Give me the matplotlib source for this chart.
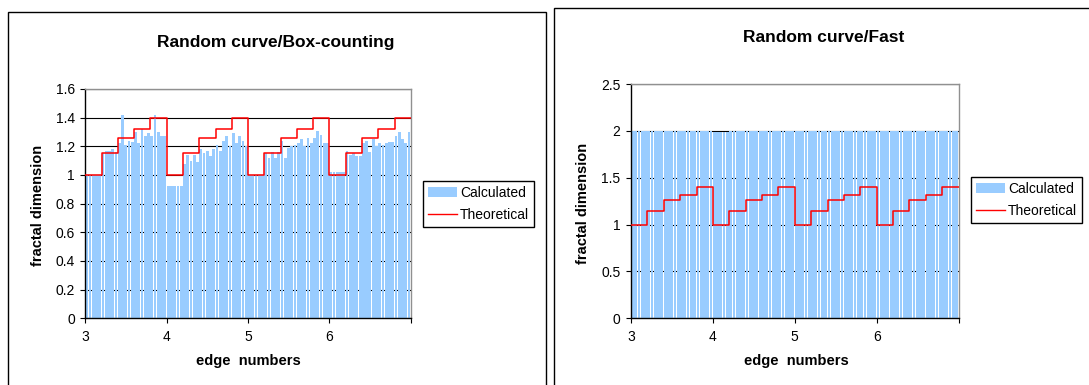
import matplotlib
matplotlib.use("Agg")
import matplotlib.pyplot as plt
from matplotlib.patches import Rectangle, Patch
from matplotlib.lines import Line2D

plt.rcParams["font.family"] = ["Liberation Sans", "DejaVu Sans"]

W, H = 1089, 385

# edge numbers, one bar every 0.04
edge = [round(3 + 0.04 * i, 2) for i in range(100)]

box_calc = [
    1.00, 1.00, 1.00, 1.00, 1.00, 1.15, 1.17, 1.17, 1.18, 1.16,
    1.22, 1.42, 1.21, 1.24, 1.23, 1.30, 1.22, 1.32, 1.27, 1.29,
    1.27, 1.42, 1.30, 1.27, 1.27,
    0.92, 0.92, 0.92, 0.92, 0.92, 1.08, 1.14, 1.10, 1.14, 1.09,
    1.18, 1.15, 1.17, 1.13, 1.18, 1.21, 1.17, 1.24, 1.27, 1.20,
    1.29, 1.22, 1.27, 1.24, 1.20,
    1.00, 1.00, 1.00, 1.00, 1.00, 1.15, 1.12, 1.16, 1.12, 1.16,
    1.24, 1.12, 1.19, 1.20, 1.21, 1.22, 1.25, 1.20, 1.26, 1.22,
    1.26, 1.31, 1.28, 1.22, 1.22,
    1.02, 1.02, 1.02, 1.02, 1.02, 1.17, 1.14, 1.15, 1.13, 1.13,
    1.22, 1.24, 1.16, 1.25, 1.20, 1.22, 1.21, 1.22, 1.23, 1.23,
    1.27, 1.30, 1.25, 1.22, 1.30,
]

fast_calc = [
    2.00, 2.00, 2.00, 2.00, 2.00, 2.00, 2.00, 2.00, 2.00, 2.00,
    2.00, 2.00, 2.00, 2.00, 2.00, 2.00, 2.00, 2.00, 2.00, 2.00,
    2.00, 2.00, 2.00, 2.00, 2.00,
    1.99, 1.99, 1.99, 1.99, 1.99, 2.00, 2.00, 2.00, 2.00, 2.00,
    2.00, 2.00, 2.00, 2.00, 2.00, 2.00, 2.00, 2.00, 2.00, 2.00,
    2.00, 2.00, 2.00, 2.00, 2.00,
    2.00, 2.00, 2.00, 2.00, 2.00, 2.00, 2.00, 2.00, 2.00, 2.00,
    2.00, 2.00, 2.00, 2.00, 2.00, 2.00, 2.00, 2.00, 2.00, 2.00,
    2.00, 2.00, 2.00, 2.00, 2.00,
    2.00, 2.00, 2.00, 2.00, 2.00, 2.00, 2.00, 2.00, 2.00, 2.00,
    2.00, 2.00, 2.00, 2.00, 2.00, 2.00, 2.00, 2.00, 2.00, 2.00,
    2.00, 2.00, 2.00, 2.00, 2.00,
]

theo_x = [3.0, 3.2, 3.4, 3.6, 3.8, 4.0, 4.2, 4.4, 4.6, 4.8,
          5.0, 5.2, 5.4, 5.6, 5.8, 6.0, 6.2, 6.4, 6.6, 6.8, 7.0]
theo_y = [1.0, 1.15, 1.26, 1.32, 1.4, 1.0, 1.15, 1.26, 1.32, 1.4,
          1.0, 1.15, 1.26, 1.32, 1.4, 1.0, 1.15, 1.26, 1.32, 1.4, 1.4]

xticks = [3, 4, 5, 6, 7]
xticklabels = ["3", "4", "5", "6", ""]

BLUE = "#99CCFF"
RED = "#FF0000"


def fx(px):
    return px / W


def fy(py):
    return 1 - py / H


def draw_panel(fig, rect, calc, ymax, ystep, yfmt, title, title_xy,
               ylab_xy, xlab_xy, legend_xy):
    ax = fig.add_axes(rect)
    ax.bar(edge, calc, width=0.034, align="edge", color=BLUE,
           linewidth=0, zorder=2)
    ax.plot(theo_x, theo_y, color=RED, lw=1.1, drawstyle="steps-post",
            zorder=3)
    ax.set_xlim(3, 7)
    ax.set_ylim(0, ymax)
    ax.set_xticks(xticks)
    ax.set_xticklabels(xticklabels)
    yt = [round(i * ystep, 2) for i in range(int(round(ymax / ystep)) + 1)]
    ax.set_yticks(yt)
    ax.set_yticklabels([yfmt(v) for v in yt])
    ax.set_axisbelow(True)
    ax.yaxis.grid(True, color="black", lw=0.8, zorder=1)
    ax.tick_params(axis="both", direction="out", length=3.6, width=0.8,
                   labelsize=10, colors="black")
    ax.tick_params(axis="x", pad=5)
    ax.tick_params(axis="y", pad=4)
    for s in ("left", "bottom"):
        ax.spines[s].set_color("black")
        ax.spines[s].set_linewidth(1.0)
    for s in ("top", "right"):
        ax.spines[s].set_color("#909090")
        ax.spines[s].set_linewidth(1.0)

    fig.text(fx(title_xy[0]), fy(title_xy[1]), title, ha="center",
             va="center", fontsize=12.5, fontweight="bold")
    fig.text(fx(ylab_xy[0]), fy(ylab_xy[1]), "fractal dimension",
             ha="center", va="center", rotation=90, fontsize=10.5,
             fontweight="bold")
    fig.text(fx(xlab_xy[0]), fy(xlab_xy[1]), "edge  numbers", ha="center",
             va="center", fontsize=10.5, fontweight="bold")

    handles = [Patch(facecolor=BLUE, edgecolor="none"),
               Line2D([0], [0], color=RED, lw=1.0)]
    leg = ax.legend(handles, ["Calculated", "Theoretical"],
                    loc="upper left",
                    bbox_to_anchor=(fx(legend_xy[0]), fy(legend_xy[1])),
                    bbox_transform=fig.transFigure, fontsize=10,
                    frameon=True, fancybox=False, framealpha=1,
                    edgecolor="black", borderpad=0.35, labelspacing=0.6,
                    handlelength=2.1, handleheight=0.8, handletextpad=0.2,
                    borderaxespad=0)
    leg.get_frame().set_linewidth(1.0)
    return ax


fig = plt.figure(figsize=(W / 100, H / 100), dpi=100)

# chart borders (Excel chart areas, cut at the image edges)
fig.patches.append(Rectangle((fx(7.5), fy(420)), fx(546) - fx(7.5),
                             fy(12.5) - fy(420), transform=fig.transFigure,
                             fill=False, edgecolor="black", lw=1.0))
fig.patches.append(Rectangle((fx(553.5), fy(420)), fx(1120) - fx(553.5),
                             fy(7.5) - fy(420), transform=fig.transFigure,
                             fill=False, edgecolor="black", lw=1.0))

draw_panel(fig,
           [fx(85.4), fy(318.3), fx(410.8) - fx(85.4), fy(89) - fy(318.3)],
           box_calc, 1.6, 0.2, lambda v: f"{v:g}",
           "Random curve/Box-counting", (276, 42), (38, 205.5), (248, 361),
           (423, 181))

draw_panel(fig,
           [fx(631), fy(318.3), fx(958.5) - fx(631), fy(84) - fy(318.3)],
           fast_calc, 2.5, 0.5, lambda v: f"{v:g}",
           "Random curve/Fast", (824, 38), (583, 203), (796, 361),
           (971, 177))

fig.savefig("out.png", dpi=100)
